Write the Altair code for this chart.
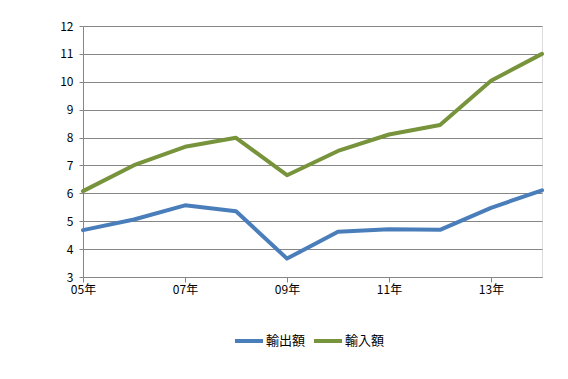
import altair as alt
import pandas as pd

years = ["05年", "06年", "07年", "08年", "09年", "10年", "11年", "12年", "13年", "14年"]
exports = [4.68, 5.06, 5.57, 5.36, 3.66, 4.62, 4.71, 4.69, 5.48, 6.11]
imports = [6.08, 7.01, 7.67, 7.99, 6.65, 7.52, 8.11, 8.45, 10.04, 11.0]
series = ["輸出額", "輸入額"]
colors = ["#4A7EBB", "#77933C"]
tick_years = ["05年", "07年", "09年", "11年", "13年"]
y_ticks = [3, 4, 5, 6, 7, 8, 9, 10, 11, 12]

rows = []
for i, yr in enumerate(years):
    rows.append({"year": yr, "series": series[0], "value": exports[i], "order": i})
    rows.append({"year": yr, "series": series[1], "value": imports[i], "order": i})
df = pd.DataFrame(rows)

font = "Noto Sans CJK JP"

chart = alt.Chart(df).mark_line(strokeWidth=4, strokeCap="round", strokeJoin="round").encode(
    x=alt.X("year:O", sort=years, scale=alt.Scale(type="point", padding=0),
            axis=alt.Axis(values=tick_years, title=None, labelAngle=0, grid=False,
                          domainColor="#868686", tickColor="#868686", tickSize=5,
                          labelColor="#000000", labelFontSize=12, labelFont=font,
                          labelPadding=2)),
    y=alt.Y("value:Q", scale=alt.Scale(domain=[3, 12], nice=False, zero=False),
            axis=alt.Axis(values=y_ticks, title=None, grid=True, gridColor="#868686",
                          domainColor="#868686", tickColor="#868686", tickSize=4,
                          labelColor="#000000", labelFontSize=12, labelFont=font,
                          labelPadding=6)),
    color=alt.Color("series:N", sort=series,
                    scale=alt.Scale(domain=series, range=colors),
                    legend=alt.Legend(title=None, orient="none", legendX=150, legendY=299,
                                      direction="horizontal", symbolType="stroke",
                                      symbolStrokeWidth=4, symbolSize=784,
                                      labelFont=font, labelFontSize=13, labelColor="#000000",
                                      labelOffset=1, columnPadding=0)),
    order="order:Q",
).properties(
    width=459, height=251,
    padding={"left": 75, "top": 18, "right": 18, "bottom": 92},
    autosize=alt.AutoSizeParams(type="none"),
).configure_view(stroke=None).configure(background="#ffffff")

chart.save("out.html", embed_options={"renderer": "svg", "actions": False})
